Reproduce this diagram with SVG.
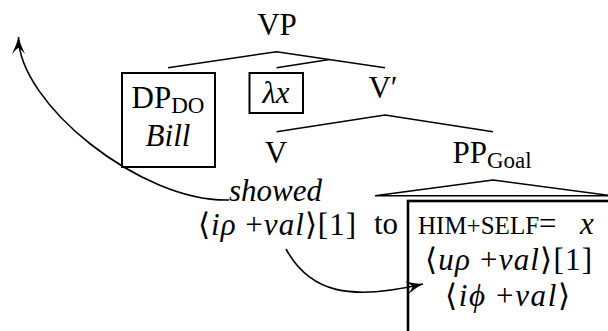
<svg xmlns="http://www.w3.org/2000/svg" width="608" height="331" viewBox="0 0 608 331" font-family="'Liberation Serif', 'Times New Roman', serif">
<style>
text{font-family:"Liberation Serif","Times New Roman",Times,serif;font-size:31px;fill:#000}
.i{font-style:italic}
.sub{font-size:23px}
.sc{font-size:25px}
.mid{text-anchor:middle}
.ln{stroke:#000;stroke-width:1.5;fill:none}
.bx{stroke:#000;stroke-width:2;fill:none}
.big{stroke:#000;stroke-width:2.6;fill:none}
.arr{stroke:#000;stroke-width:1.6;fill:none;marker-end:url(#ah)}
</style>
<defs>
<marker id="ah" markerUnits="userSpaceOnUse" markerWidth="24" markerHeight="16" viewBox="-19 -8 21 16" refX="0" refY="0" orient="auto" overflow="visible">
<path d="M0,0 Q-8,-2 -17,-6.5 Q-11,-1.5 -11,0 Q-11,1.5 -17,6.5 Q-8,2 0,0Z" fill="#000"/>
</marker>
</defs>
<g id="connectors">
<polyline class="ln" points="168,67.7 276.5,51.7 385,67.7"/>
<line class="ln" x1="276.5" y1="67.7" x2="329.5" y2="59.5"/>
<polyline class="ln" points="276.5,131.7 385,115 493,131.7"/>
<polygon class="ln" points="375,195.7 493,180 611,195.7"/>
<path class="arr" d="M229,200 C140,202 18.5,103 18.5,37"/>
<path class="arr" d="M286,249 C310,293 350,301 423,284"/>
</g>
<g id="VP"><text class="mid" x="277" y="35">VP</text></g>
<g id="DP">
<rect class="bx" x="122" y="73" width="93" height="94"/>
<text class="mid" x="168" y="108">DP<tspan class="sub" dy="5">DO</tspan></text>
<text class="mid i" x="168" y="146">Bill</text>
</g>
<g id="lambda">
<rect class="bx" x="249.5" y="73" width="53.5" height="40"/>
<text class="mid i" x="276" y="103">λx</text>
</g>
<g id="Vbar"><text class="mid" x="383" y="98">V′</text></g>
<g id="V">
<text class="mid" x="276" y="163">V</text>
<text class="i" x="229" y="201">showed</text>
<text x="198" y="235" textLength="158" lengthAdjust="spacing">⟨<tspan class="i">iρ</tspan> +<tspan class="i">val</tspan>⟩[1]</text>
</g>
<g id="PP">
<text class="mid" x="492" y="163">PP<tspan class="sub" dy="5">Goal</tspan></text>
<text x="374" y="234">to</text>
<rect class="big" x="408" y="201" width="202" height="140"/>
<text x="418" y="234"><tspan class="sc">HIM+SELF</tspan>=</text>
<text class="i" x="580" y="234">x</text>
<text x="425" y="270" textLength="167" lengthAdjust="spacing">⟨<tspan class="i">uρ</tspan> +<tspan class="i">val</tspan>⟩[1]</text>
<text x="445" y="306" textLength="125" lengthAdjust="spacing">⟨<tspan class="i">iϕ</tspan> +<tspan class="i">val</tspan>⟩</text>
</g>
</svg>
